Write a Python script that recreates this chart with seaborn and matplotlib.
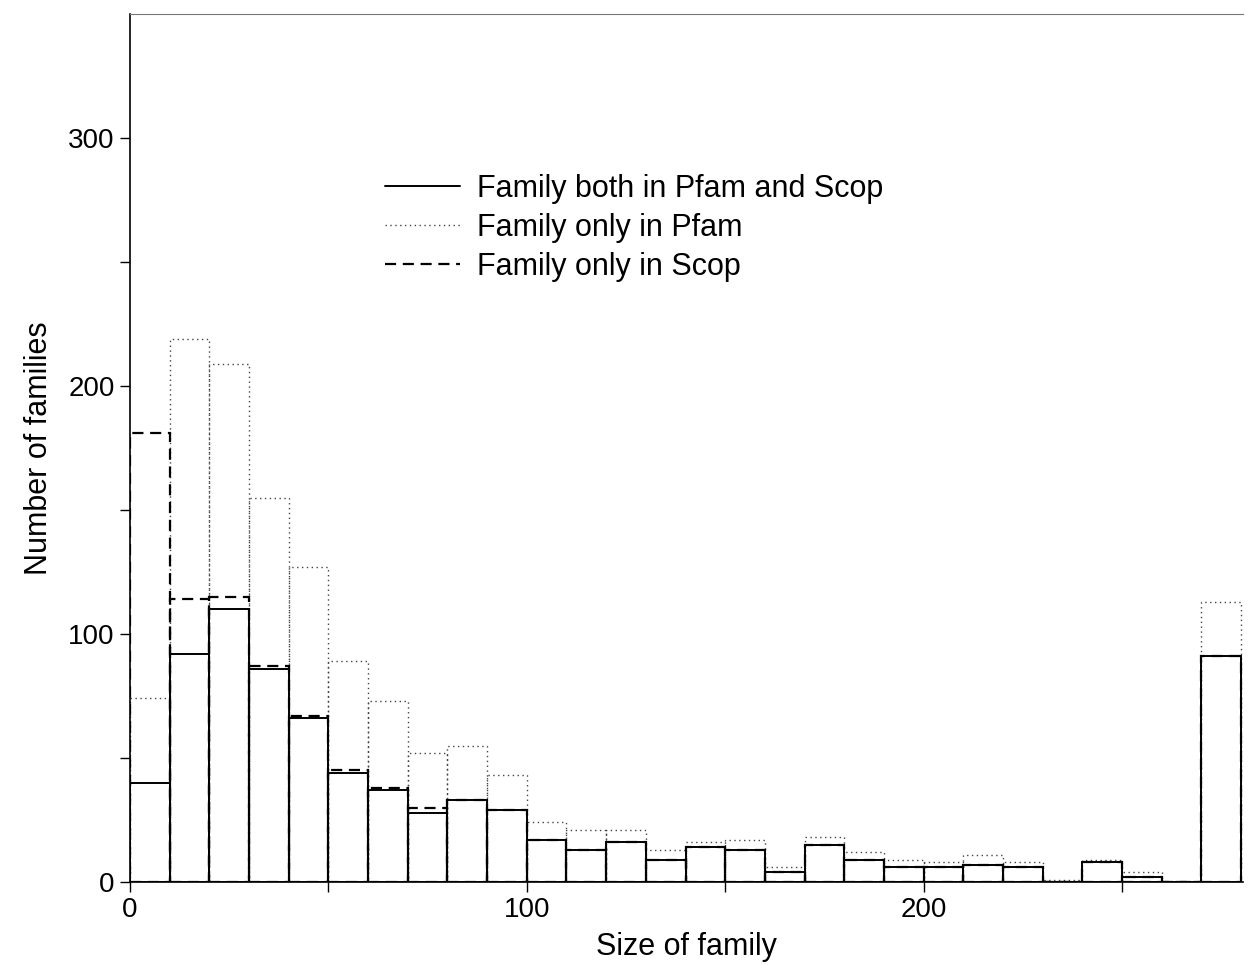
import numpy as np
import pandas as pd
import seaborn as sns
import matplotlib.pyplot as plt
from matplotlib.lines import Line2D
from matplotlib.ticker import FixedLocator

# histogram values, bins of width 10 from 0 to 280
bin_edges = list(range(0, 290, 10))
both_counts = [40, 92, 110, 86, 66, 44, 37, 28, 33, 29, 17, 13, 16, 9, 14,
               13, 4, 15, 9, 6, 6, 7, 6, 0, 8, 2, 0, 91]
pfam_counts = [74, 219, 209, 155, 127, 89, 73, 52, 55, 43, 24, 21, 21, 13, 16,
               17, 6, 18, 12, 9, 8, 11, 8, 1, 9, 4, 0, 113]
scop_counts = [181, 114, 115, 87, 67, 45, 38, 30, 33, 29, 17, 13, 16, 9, 14,
               13, 4, 15, 9, 6, 6, 7, 6, 0, 8, 2, 0, 91]
labels = ["Family both in Pfam and Scop", "Family only in Pfam", "Family only in Scop"]

centers = [e + 5 for e in bin_edges[:-1]]
df = pd.DataFrame({"size": centers, "both": both_counts,
                   "pfam": pfam_counts, "scop": scop_counts})

sns.set_theme(style="ticks")
plt.rcParams['font.family'] = ['Liberation Sans', 'DejaVu Sans']
plt.rcParams['text.color'] = 'black'
plt.rcParams['axes.labelcolor'] = 'black'
plt.rcParams['xtick.color'] = 'black'
plt.rcParams['ytick.color'] = 'black'

fig = plt.figure(figsize=(12.54, 9.65), dpi=100)
ax = fig.add_axes([0.1037, 0.086, 0.8875, 0.8995])

dot_style = (0, (1, 2.5))
dash_style = (0, (5, 3))

# dotted (Pfam only) behind, then dashed (Scop only), solid on top
sns.histplot(data=df, x="size", weights="pfam", bins=bin_edges, element="bars",
             fill=False, color="#444444", linewidth=1.0,
             linestyle=dot_style, ax=ax)
sns.histplot(data=df, x="size", weights="scop", bins=bin_edges, element="bars",
             fill=False, color="black", linewidth=1.6,
             linestyle=dash_style, ax=ax)
sns.histplot(data=df, x="size", weights="both", bins=bin_edges, element="bars",
             fill=False, color="black", linewidth=1.4, ax=ax)

ax.set_xlim(0, 280.5)
ax.set_ylim(0, 350)
ax.xaxis.set_major_locator(FixedLocator([0, 100, 200]))
ax.xaxis.set_minor_locator(FixedLocator([50, 150, 250]))
ax.yaxis.set_major_locator(FixedLocator([0, 100, 200, 300]))
ax.yaxis.set_minor_locator(FixedLocator([50, 150, 250]))
ax.tick_params(which="both", direction="out", length=7, width=1, labelsize=20, pad=4)

ax.spines["right"].set_visible(False)
ax.spines["top"].set_color("#777777")
ax.spines["top"].set_linewidth(0.8)
ax.spines["left"].set_linewidth(1.2)
ax.spines["bottom"].set_linewidth(1.2)
ax.spines["left"].set_color("black")
ax.spines["bottom"].set_color("black")

ax.set_xlabel("Size of family", fontsize=22, labelpad=6)
ax.set_ylabel("Number of families", fontsize=22, labelpad=10)

handles = [
    Line2D([], [], color="black", linewidth=1.4),
    Line2D([], [], color="#444444", linewidth=1.0, linestyle=dot_style),
    Line2D([], [], color="black", linewidth=1.6, linestyle=dash_style),
]
ax.legend(handles, labels, loc="upper left", bbox_to_anchor=(0.2185, 0.83),
          frameon=False, fontsize=22, handlelength=2.45, handletextpad=0.55,
          labelspacing=0.3, borderaxespad=0)

fig.savefig("out.png", dpi=100)
